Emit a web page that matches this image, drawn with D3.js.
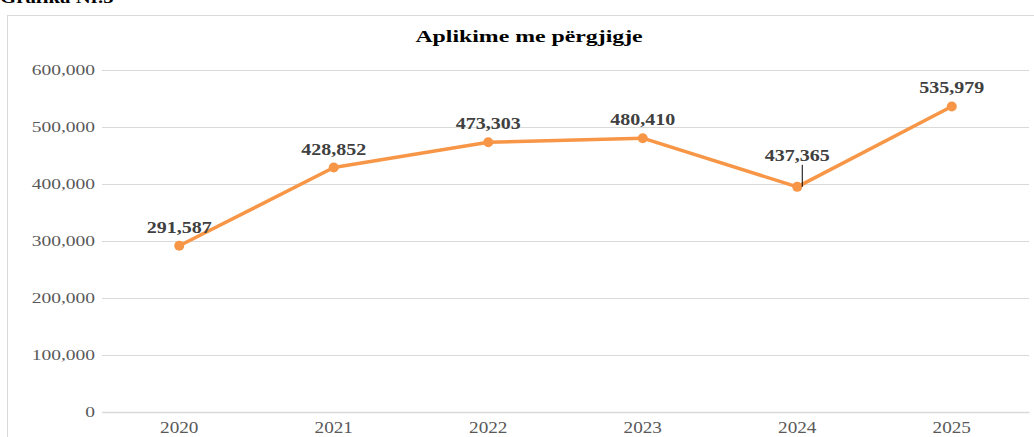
<!DOCTYPE html>
<html lang="sq">
<head>
  <meta charset="UTF-8">
  <title>Aplikime me përgjigje</title>
  <script src="https://d3js.org/d3.v7.min.js"></script>
  <style>
    body { margin: 0; background: #fff; }
    svg text { font-family: "Liberation Serif", "Times New Roman", serif; }
  </style>
</head>
<body>
  <svg width="1034" height="437"></svg>
  <script>
    // data
    const years = ["2020", "2021", "2022", "2023", "2024", "2025"];
    const values = [291587, 428852, 473303, 480410, 395000, 535979];
    const labels = ["291,587", "428,852", "473,303", "480,410", "437,365", "535,979"];
    const yTicks = [0, 100000, 200000, 300000, 400000, 500000, 600000];

    const width = 1034, height = 437;
    const margin = {left: 102, right: 5, top: 70, bottom: 25};

    const svg = d3.select("svg");

    // the source font is wider than Times, so stretch text horizontally
    function stretch(sel, sx) {
      sel.each(function() {
        const t = d3.select(this);
        const tx = +t.attr("x") || 0, ty = +t.attr("y") || 0;
        t.attr("x", 0).attr("y", 0)
          .attr("transform", `translate(${tx},${ty}) scale(${sx},1)`);
      });
    }

    // heading above the chart box (cut at the top edge)
    svg.append("text")
      .attr("x", 0).attr("y", 3)
      .attr("font-size", "16px").attr("font-weight", "bold")
      .attr("fill", "#000")
      .text("Grafika Nr.5")
      .call(stretch, 1.3);

    // chart area border
    svg.append("rect")
      .attr("x", 7.5).attr("y", 15.5)
      .attr("width", width + 10).attr("height", height)
      .attr("fill", "#fff").attr("stroke", "#d9d9d9");

    svg.append("text")
      .attr("x", 529).attr("y", 42)
      .attr("text-anchor", "middle")
      .attr("font-size", "17px").attr("font-weight", "bold")
      .attr("fill", "#000")
      .text("Aplikime me përgjigje")
      .call(stretch, 1.4);

    const x = d3.scaleBand()
      .domain(years)
      .range([margin.left, width - margin.right]);

    const y = d3.scaleLinear()
      .domain([0, 600000])
      .range([height - margin.bottom, margin.top]);

    // gridlines + y axis labels
    const yAxis = svg.append("g")
      .attr("transform", `translate(${margin.left},0)`)
      .call(d3.axisLeft(y)
        .tickValues(yTicks)
        .tickSize(-(width - margin.left - margin.right))
        .tickPadding(7)
        .tickFormat(d3.format(",")));
    yAxis.select(".domain").remove();
    yAxis.selectAll("line").attr("stroke", "#d9d9d9").attr("stroke-width", 1);
    yAxis.selectAll("text")
      .attr("font-size", "15px").attr("fill", "#595959")
      .attr("font-family", "Liberation Serif, serif")
      .call(stretch, 1.3);

    // x axis
    const xAxis = svg.append("g")
      .attr("transform", `translate(0,${y(0)})`)
      .call(d3.axisBottom(x).tickSize(0).tickPadding(10));
    xAxis.select(".domain").attr("stroke", "#d9d9d9").attr("stroke-width", 1.5);
    xAxis.selectAll("text")
      .attr("font-size", "16px").attr("fill", "#595959")
      .attr("font-family", "Liberation Serif, serif")
      .call(stretch, 1.2);

    const cx = d => x(d) + x.bandwidth() / 2;
    const pts = years.map((yr, i) => ({yr, v: values[i], lab: labels[i]}));

    const orange = "#F79646";

    svg.append("path")
      .datum(pts)
      .attr("fill", "none")
      .attr("stroke", orange)
      .attr("stroke-width", 3.5)
      .attr("stroke-linejoin", "round")
      .attr("d", d3.line().x(d => cx(d.yr)).y(d => y(d.v)));

    svg.selectAll("circle.pt")
      .data(pts)
      .join("circle")
      .attr("class", "pt")
      .attr("cx", d => cx(d.yr))
      .attr("cy", d => y(d.v))
      .attr("r", 5)
      .attr("fill", orange);

    // leader line for the 2024 label
    const p24 = pts[4];
    svg.append("line")
      .attr("x1", cx(p24.yr) + 5).attr("x2", cx(p24.yr) + 5)
      .attr("y1", y(p24.v) - 22).attr("y2", y(p24.v))
      .attr("stroke", "#000").attr("stroke-width", 1);

    svg.selectAll("text.lab")
      .data(pts)
      .join("text")
      .attr("class", "lab")
      .attr("x", d => cx(d.yr))
      .attr("y", (d, i) => i === 4 ? y(d.v) - 26 : y(d.v) - 13)
      .attr("text-anchor", "middle")
      .attr("font-size", "16px").attr("font-weight", "bold")
      .attr("fill", "#404040")
      .text(d => d.lab)
      .call(stretch, 1.25);
  </script>
</body>
</html>
